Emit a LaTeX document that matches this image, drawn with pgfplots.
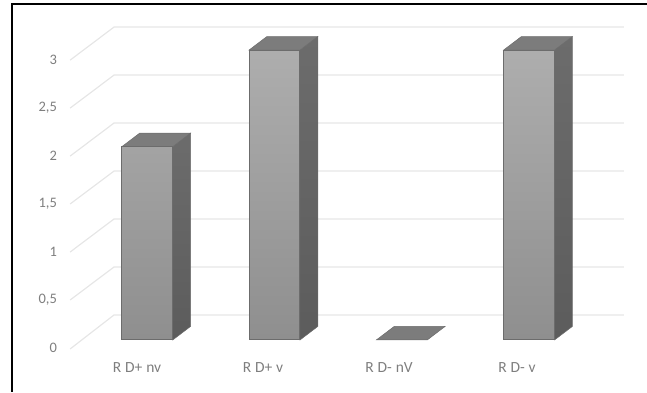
\documentclass[border=0pt]{standalone}
\usepackage{fontspec}
\setmainfont{Carlito}
\newfontfamily\catfont[WordSpace=1.1]{Carlito}
\usepackage{pgfplots}
\pgfplotsset{compat=1.18}
\definecolor{gridc}{HTML}{E6E6E6}
\definecolor{labelc}{HTML}{7E7E7E}
\definecolor{edgec}{HTML}{6C6C6C}
\definecolor{topc}{HTML}{7C7C7C}
\definecolor{sidetop}{HTML}{6C6C6C}
\definecolor{sidebot}{HTML}{5C5C5C}
\begin{document}
\begin{tikzpicture}
\begin{axis}[
  scale only axis, width=647pt, height=392pt,
  xmin=-1.1563, xmax=3.926, ymin=-0.538, ymax=3.517,
  axis line style={draw=none},
  major tick length=0pt,
  unbounded coords=jump,
  xtick={-0.08,0.91,1.9,2.905},
  xticklabels={R D+ nv,R D+ v,R D- nV,R D- v},
  ytick={-0.083,0.414,0.91,1.407,1.903,2.40,2.896},
  yticklabels={0,{0,5},1,{1,5},2,{2,5},3},
  x tick label style={anchor=center,yshift=24pt,inner sep=0pt,text=labelc,
    font=\catfont\fontsize{15.5}{15.5}\selectfont},
  y tick label style={anchor=east,xshift=57pt,inner sep=0pt,text=labelc,
    font=\fontsize{14.5}{14.5}\selectfont},
]
% Page frame, top and left only
\addplot[black,line width=2pt,forget plot] coordinates {(-1.066,-0.6)(-1.066,3.481)(4,3.481)};

% Wall and side-wall grid lines
\addplot[gridc,line width=1.2pt,forget plot] coordinates {
  (-0.606,-0.093)(-0.261,0.259)(3.745,0.259) (nan,nan)
  (-0.606,0.414)(-0.261,0.755)(3.745,0.755) (nan,nan)
  (-0.606,0.910)(-0.261,1.252)(3.745,1.252) (nan,nan)
  (-0.606,1.407)(-0.261,1.748)(3.745,1.748) (nan,nan)
  (-0.606,1.903)(-0.261,2.245)(3.745,2.245) (nan,nan)
  (-0.606,2.400)(-0.261,2.741)(3.745,2.741) (nan,nan)
  (-0.606,2.896)(-0.261,3.238)(3.745,3.238)
};

% Right-hand faces of the columns
\addplot[draw=sidetop,line width=0.5pt,top color=sidetop,bottom color=sidebot,forget plot]
  coordinates {(0.2,0)(0.34,0.14)(0.34,2.14)(0.2,2)} -- cycle;
\addplot[draw=sidetop,line width=0.5pt,top color=sidetop,bottom color=sidebot,forget plot]
  coordinates {(1.2,0)(1.34,0.14)(1.34,3.14)(1.2,3)} -- cycle;
\addplot[draw=sidetop,line width=0.5pt,top color=sidetop,bottom color=sidebot,forget plot]
  coordinates {(3.2,0)(3.34,0.14)(3.34,3.14)(3.2,3)} -- cycle;

% Upper faces of the columns
\addplot[draw=edgec,line width=0.5pt,fill=topc,forget plot]
  coordinates {(-0.2,2)(0.2,2)(0.34,2.14)(-0.06,2.14)} -- cycle;
\addplot[draw=edgec,line width=0.5pt,fill=topc,forget plot]
  coordinates {(0.8,3)(1.2,3)(1.34,3.14)(0.94,3.14)} -- cycle;
\addplot[draw=edgec,line width=0.5pt,fill=topc,forget plot]
  coordinates {(1.8,0)(2.2,0)(2.34,0.14)(1.94,0.14)} -- cycle;
\addplot[draw=edgec,line width=0.5pt,fill=topc,forget plot]
  coordinates {(2.8,3)(3.2,3)(3.34,3.14)(2.94,3.14)} -- cycle;

% Front faces of the columns
\addplot[ybar,bar shift=0pt,bar width=0.4,draw=edgec,line width=1pt,
  top color=black!32,bottom color=black!44,forget plot]
  coordinates {(0,2)(1,3)(2,0)(3,3)};
\end{axis}
\end{tikzpicture}
\end{document}
